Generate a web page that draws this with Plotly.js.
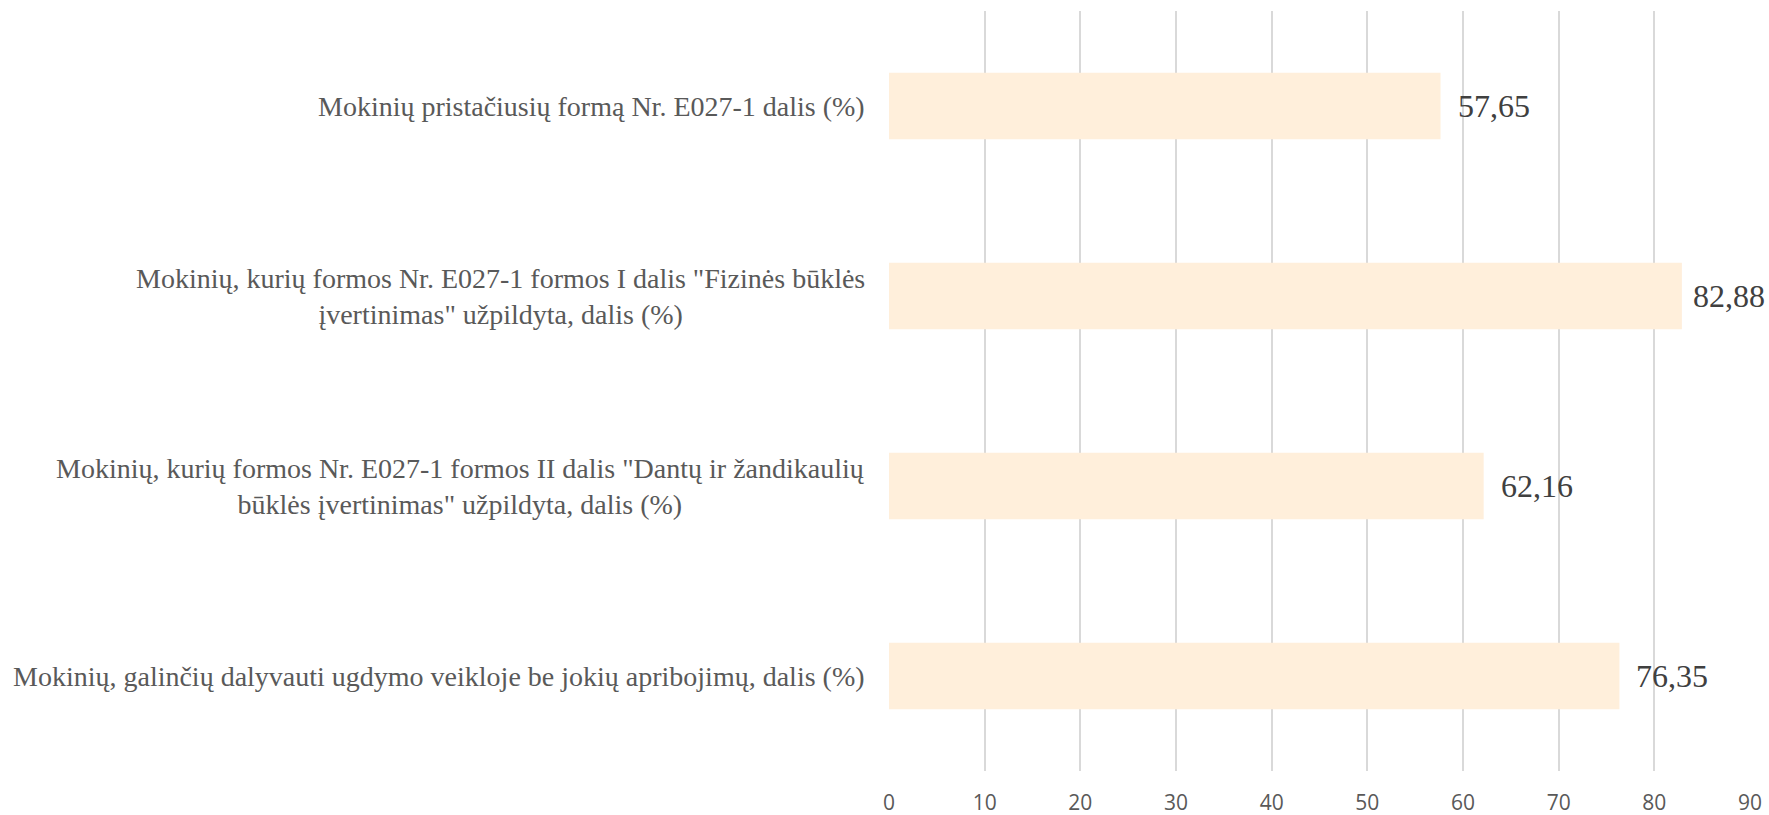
<!DOCTYPE html>
<html>
<head>
<meta charset="utf-8">
<script src="https://cdn.plot.ly/plotly-3.0.1.min.js"></script>
<style>
  html, body { margin: 0; padding: 0; background: #fff; }
  #chart { width: 1769px; height: 815px; }
</style>
</head>
<body>
<div id="chart"></div>
<script>
// ========== Data ==========
const categories = [
  "Mokinių pristačiusių formą Nr. E027-1 dalis (%)",
  "Mokinių, kurių formos Nr. E027-1 formos I dalis \"Fizinės būklės<br>įvertinimas\" užpildyta, dalis (%)",
  "Mokinių, kurių formos Nr. E027-1 formos II dalis \"Dantų ir žandikaulių<br>būklės įvertinimas\" užpildyta, dalis (%)",
  "Mokinių, galinčių dalyvauti ugdymo veikloje be jokių apribojimų, dalis (%)"
];
const values = [57.65, 82.88, 62.16, 76.35];
const xTicks = [0, 10, 20, 30, 40, 50, 60, 70, 80, 90];

const serif = 'Liberation Serif, Times New Roman, serif';

// ========== Bars ==========
const barTrace = {
  type: 'bar',
  orientation: 'h',
  x: values,
  y: categories,
  marker: { color: '#FFEFDB' },
  hoverinfo: 'skip'
};

// category labels as annotations so wrapped lines can be centred (Excel style)
const categoryAnnotations = categories.map(c => ({
  x: 0,
  y: c,
  xref: 'x',
  yref: 'y',
  text: c,
  showarrow: false,
  xanchor: 'right',
  yanchor: 'middle',
  align: 'center',
  xshift: -22,
  font: { family: serif, size: 28, color: '#595959' }
}));

// value labels right of each bar end (decimal comma);
// the longest one is nudged in so it stays inside the chart
const labelAnnotations = values.map((v, i) => ({
  x: v,
  y: categories[i],
  xref: 'x',
  yref: 'y',
  text: v.toFixed(2).replace('.', ','),
  showarrow: false,
  xanchor: 'left',
  yanchor: 'middle',
  xshift: v > 80 ? 9 : 15,
  font: { family: serif, size: 32, color: '#404040' }
}));

const layout = {
  width: 1769,
  height: 815,
  margin: { l: 889, r: 19, t: 11, b: 44 },
  paper_bgcolor: '#ffffff',
  plot_bgcolor: '#ffffff',
  showlegend: false,
  bargap: 0.65,
  xaxis: {
    range: [0, 90],
    tickvals: xTicks,
    showgrid: true,
    gridcolor: '#d9d9d9',
    gridwidth: 2,
    zeroline: false,
    showline: false,
    ticks: '',
    ticklabelstandoff: 17,
    tickfont: { family: 'Open Sans, sans-serif', size: 21, color: '#595959' }
  },
  yaxis: {
    type: 'category',
    autorange: 'reversed',
    showgrid: false,
    zeroline: false,
    showline: false,
    showticklabels: false,
    ticks: ''
  },
  annotations: categoryAnnotations.concat(labelAnnotations)
};

Plotly.newPlot('chart', [barTrace], layout, { displayModeBar: false, staticPlot: true });
</script>
</body>
</html>
